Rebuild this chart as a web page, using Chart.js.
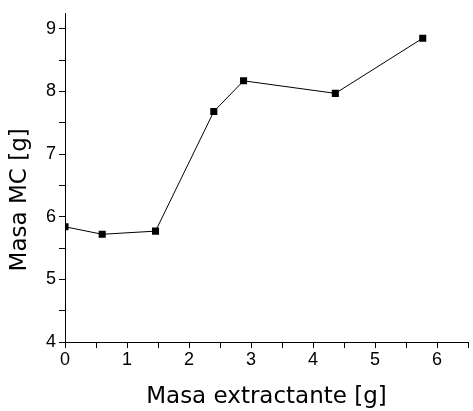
<!DOCTYPE html>
<html>
<head>
<meta charset="utf-8">
<script src="https://cdn.jsdelivr.net/npm/chart.js@4"></script>
<style>
html,body{margin:0;padding:0;background:#fff;}
#wrap{width:473px;height:411px;}
</style>
</head>
<body>
<div id="wrap"><canvas id="c" width="473" height="411"></canvas></div>
<script>
const xValues = [0, 0.6, 1.46, 2.4, 2.88, 4.36, 5.77];
const yValues = [5.84, 5.72, 5.77, 7.68, 8.17, 7.97, 8.85];
const xTickValues = [0, 0.5, 1, 1.5, 2, 2.5, 3, 3.5, 4, 4.5, 5, 5.5, 6, 6.5];
const yTickValues = [4, 4.5, 5, 5.5, 6, 6.5, 7, 7.5, 8, 8.5, 9];
const xTitle = 'Masa extractante [g]';
const yTitle = 'Masa MC [g]';

const points = xValues.map((x, i) => ({x: x, y: yValues[i]}));
const tickFont = {family: 'Liberation Sans', size: 18};
const titleFont = {family: 'DejaVu Sans', size: 23};
const intLabel = v => (Math.abs(v - Math.round(v)) < 1e-9 ? String(Math.round(v)) : '');

new Chart(document.getElementById('c'), {
  type: 'line',
  data: {
    datasets: [{
      data: points,
      borderColor: '#000',
      borderWidth: 1,
      backgroundColor: '#000',
      pointStyle: 'rect',
      pointRadius: 5,
      pointBackgroundColor: '#000',
      pointBorderWidth: 0,
      tension: 0,
      fill: false
    }]
  },
  options: {
    responsive: false,
    animation: false,
    layout: {padding: {top: 13, right: 0, left: 0, bottom: 0}},
    plugins: {legend: {display: false}, tooltip: {enabled: false}},
    scales: {
      x: {
        type: 'linear',
        min: 0, max: 6.5,
        afterBuildTicks: s => { s.ticks = xTickValues.map(v => ({value: v})); },
        afterFit: s => { s.height = 69; },
        ticks: {autoSkip: false, maxRotation: 0, color: '#000', font: tickFont, padding: 1, callback: intLabel},
        grid: {drawOnChartArea: false, drawTicks: true, tickLength: 6, color: '#000', tickColor: '#000'},
        border: {display: true, color: '#000', width: 1},
        title: {display: true, text: xTitle, color: '#000', font: titleFont, padding: {top: 4, bottom: 0}}
      },
      y: {
        type: 'linear',
        min: 4, max: 9.24,
        afterBuildTicks: s => { s.ticks = yTickValues.map(v => ({value: v})); },
        afterFit: s => { s.width = 65; },
        ticks: {autoSkip: false, color: '#000', font: tickFont, padding: 3, callback: intLabel},
        grid: {drawOnChartArea: false, drawTicks: true, tickLength: 6, color: '#000', tickColor: '#000'},
        border: {display: true, color: '#000', width: 1},
        title: {display: true, text: yTitle + '      ', color: '#000', font: titleFont, padding: {top: 6, bottom: 0}}
      }
    }
  }
});
</script>
</body>
</html>
